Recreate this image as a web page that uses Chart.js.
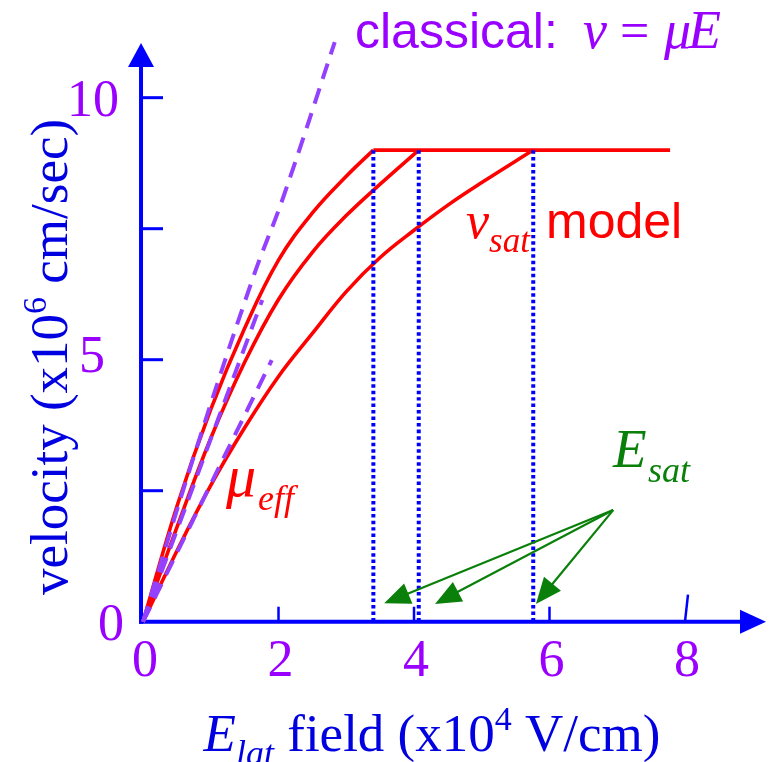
<!DOCTYPE html>
<html>
<head>
<meta charset="utf-8">
<script src="https://cdn.jsdelivr.net/npm/chart.js@4.4.1/dist/chart.umd.min.js"></script>
<style>
	html, body { margin: 0; padding: 0; background: #fff; }
	canvas { display: block; }
	#fontwarm { position: absolute; left: -9999px; top: 0; font-size: 50px; }
</style>
</head>
<body>
<div id="fontwarm">
	<span style="font-family: 'Liberation Serif'">velocity 0123 <i>Ev&mu;</i></span>
	<span style="font-family: 'Liberation Sans'">classical model</span>
</div>
<canvas id="chart" width="769" height="762"></canvas>
<script>
// values: field E (x10^4 V/cm), velocity v (x10^6 cm/s)
const curveA_E = [0, 0.5, 1, 1.5, 2, 2.5, 3, 3.4];
const curveA_V = [0, 2.2, 4.05, 5.6, 6.9, 7.8, 8.5, 9.0];
const curveB_E = [0, 0.5, 1, 1.5, 2, 2.5, 3, 3.5, 4.07];
const curveB_V = [0, 1.8, 3.5, 4.95, 6.15, 7.05, 7.75, 8.35, 9.0];
const curveC_E = [0, 0.5, 1, 1.5, 2, 2.5, 3, 3.5, 4, 4.5, 5, 5.76];
const curveC_V = [0, 1.35, 2.6, 3.7, 4.68, 5.5, 6.3, 6.95, 7.47, 7.95, 8.38, 9.0];
const satLine_E = [3.4, 7.78];
const vSat = 9.0;
const eSat = [3.4, 4.07, 5.76];

// classical v = mu*E lines (dashed)
const classical1_E = [0, 0.7, 1.62, 2.07, 2.83];
const classical1_V = [0, 2.95, 6.55, 8.1, 11.06];
const classical2_E = [0, 1.76];
const classical2_V = [0, 6.14];
const classical3_E = [0, 1.9];
const classical3_V = [0, 4.99];

const xTicks = [2, 4, 6, 8];
const xTickLabels = ["0", "2", "4", "6", "8"];
const xTickLabelValues = [0, 2, 4, 6, 8];
const yTicks = [2.5, 5, 7.5, 10];
const yTickLabels = ["0", "5", "10"];
const yTickLabelValues = [0, 5, 10];

const SERIF = '"Liberation Serif", "Times New Roman", "DejaVu Serif", serif';
const SANS = '"Liberation Sans", Arial, sans-serif';
const AXIS_BLUE = "#0000ff";
const TITLE_BLUE = "#0000e0";
const TICK_PURPLE = "#9900ff";
const DASH_PURPLE = "#9440ff";
const RED = "#ff0000";
const GREEN = "#0a800a";

function pts(xs, ys) {
	return xs.map((x, i) => ({ x: x, y: Array.isArray(ys) ? ys[i] : ys }));
}

function lineSet(data, color, width, dash, order) {
	return {
		data: data,
		showLine: true,
		borderColor: color,
		borderWidth: width,
		borderDash: dash,
		pointRadius: 0,
		fill: false,
		tension: 0.4,
		borderCapStyle: "butt",
		order: order,
	};
}

const datasets = [
	lineSet(pts(classical1_E, classical1_V), DASH_PURPLE, 4, [16, 10], 0),
	lineSet(pts(classical2_E, classical2_V), DASH_PURPLE, 4, [16, 10], 0),
	lineSet(pts(classical3_E, classical3_V), DASH_PURPLE, 4, [16, 10], 0),
];
eSat.forEach((e) => {
	datasets.push(lineSet(pts([e, e], [0, vSat]), "#0000ff", 4, [3.5, 3], 1));
});
datasets.push(lineSet(pts(curveA_E, curveA_V), RED, 3.6, [], 2));
datasets.push(lineSet(pts(curveB_E, curveB_V), RED, 3.6, [], 2));
datasets.push(lineSet(pts(curveC_E, curveC_V), RED, 3.6, [], 2));
datasets.push(lineSet(pts(satLine_E, vSat), RED, 3.6, [], 2));

// draws a run of text pieces (sub/superscripts); a piece may carry its own x
function drawRich(ctx, x, y, parts, align) {
	let total = 0;
	parts.forEach((p) => {
		ctx.font = p.f;
		total += ctx.measureText(p.t).width;
	});
	let cx = align === "center" ? x - total / 2 : x;
	parts.forEach((p) => {
		if (p.x !== undefined) cx = p.x;
		ctx.font = p.f;
		ctx.fillStyle = p.c;
		ctx.fillText(p.t, cx, y + (p.dy || 0));
		cx += ctx.measureText(p.t).width;
	});
}

function arrowHead(ctx, x0, y0, x1, y1, len, half) {
	const a = Math.atan2(y1 - y0, x1 - x0);
	ctx.beginPath();
	ctx.moveTo(x1, y1);
	ctx.lineTo(x1 - len * Math.cos(a) + half * Math.sin(a), y1 - len * Math.sin(a) - half * Math.cos(a));
	ctx.lineTo(x1 - len * Math.cos(a) - half * Math.sin(a), y1 - len * Math.sin(a) + half * Math.cos(a));
	ctx.closePath();
	ctx.fill();
}

const axesPlugin = {
	id: "axes",
	beforeDatasetsDraw(chart) {
		const ctx = chart.ctx;
		const xs = chart.scales.x;
		const ys = chart.scales.y;
		const x0 = xs.getPixelForValue(0) - 2;
		const y0 = ys.getPixelForValue(0);
		ctx.save();
		ctx.strokeStyle = AXIS_BLUE;
		ctx.fillStyle = AXIS_BLUE;
		ctx.lineWidth = 4;
		// y axis with arrow
		ctx.beginPath();
		ctx.moveTo(x0, y0 + 2);
		ctx.lineTo(x0, 62);
		ctx.stroke();
		ctx.beginPath();
		ctx.moveTo(x0, 43);
		ctx.lineTo(x0 - 13, 67);
		ctx.lineTo(x0 + 13, 67);
		ctx.closePath();
		ctx.fill();
		// x axis with arrow
		ctx.beginPath();
		ctx.moveTo(x0 - 2, y0);
		ctx.lineTo(745, y0);
		ctx.stroke();
		ctx.beginPath();
		ctx.moveTo(766, y0);
		ctx.lineTo(740, y0 - 12);
		ctx.lineTo(740, y0 + 12);
		ctx.closePath();
		ctx.fill();
		// y ticks
		ctx.lineWidth = 3;
		yTicks.forEach((v) => {
			const py = ys.getPixelForValue(v);
			ctx.beginPath();
			ctx.moveTo(x0, py);
			ctx.lineTo(x0 + 22, py);
			ctx.stroke();
		});
		// x ticks
		ctx.lineWidth = 2.5;
		xTicks.forEach((v, i) => {
			const px = xs.getPixelForValue(v);
			const last = i === xTicks.length - 1;
			ctx.beginPath();
			ctx.moveTo(px, y0);
			ctx.lineTo(px + (last ? 3 : 0), y0 - (last ? 27 : 15));
			ctx.stroke();
		});
		// tick labels
		ctx.fillStyle = TICK_PURPLE;
		ctx.font = "52px " + SERIF;
		ctx.textAlign = "center";
		ctx.textBaseline = "alphabetic";
		xTickLabels.forEach((t, i) => {
			ctx.fillText(t, xs.getPixelForValue(xTickLabelValues[i]) + 2, 676);
		});
		ctx.textAlign = "right";
		const yLabelX = [124, 105, 119];
		const yLabelDy = [18, 12, 18];
		yTickLabels.forEach((t, i) => {
			ctx.fillText(t, yLabelX[i], ys.getPixelForValue(yTickLabelValues[i]) + yLabelDy[i]);
		});
		ctx.restore();
	},
	afterDatasetsDraw(chart) {
		const ctx = chart.ctx;
		const xs = chart.scales.x;
		const ys = chart.scales.y;
		ctx.save();
		ctx.textAlign = "left";
		ctx.textBaseline = "alphabetic";

		// classical label
		drawRich(ctx, 355, 48, [
			{ t: "classical:", f: "50px " + SANS, c: TICK_PURPLE },
			{ t: "v", f: "italic 54px " + SERIF, c: TICK_PURPLE, x: 583 },
			{ t: "=", f: "52px " + SERIF, c: TICK_PURPLE, x: 620 },
			{ t: "\u03bc", f: "italic 54px " + SERIF, c: TICK_PURPLE, x: 664 },
			{ t: "E", f: "italic 54px " + SERIF, c: TICK_PURPLE, x: 688 },
		]);

		// vsat model label
		drawRich(ctx, 466, 238, [
			{ t: "v", f: "italic 52px " + SERIF, c: RED },
			{ t: "sat", f: "italic 35px " + SERIF, c: RED, dy: 14 },
		]);
		ctx.font = "50px " + SANS;
		ctx.fillStyle = RED;
		ctx.fillText("model", 546, 238);

		// mu_eff label
		drawRich(ctx, 226, 496, [
			{ t: "\u03bc", f: "italic 60px " + SERIF, c: RED },
			{ t: "eff", f: "italic 36px " + SERIF, c: RED, dy: 14, x: 258 },
		]);

		// Esat label and arrows
		drawRich(ctx, 613, 467, [
			{ t: "E", f: "italic 55px " + SERIF, c: GREEN },
			{ t: "sat", f: "italic 36px " + SERIF, c: GREEN, dy: 15, x: 648 },
		]);
		const sx = xs.getPixelForValue(6.94);
		const sy = ys.getPixelForValue(2.13);
		ctx.strokeStyle = GREEN;
		ctx.fillStyle = GREEN;
		ctx.lineWidth = 2.2;
		[[3.56, 0.35], [4.31, 0.34], [5.8, 0.34]].forEach((p) => {
			const tx = xs.getPixelForValue(p[0]);
			const ty = ys.getPixelForValue(p[1]);
			const a = Math.atan2(ty - sy, tx - sx);
			ctx.beginPath();
			ctx.moveTo(sx, sy);
			ctx.lineTo(tx - 20 * Math.cos(a), ty - 20 * Math.sin(a));
			ctx.stroke();
			arrowHead(ctx, sx, sy, tx, ty, 26, 11);
		});

		// axis titles
		drawRich(ctx, 432, 751, [
			{ t: "E", f: "italic 53px " + SERIF, c: TITLE_BLUE },
			{ t: "lat", f: "italic 36px " + SERIF, c: TITLE_BLUE, dy: 14 },
			{ t: " field (x10", f: "53px " + SERIF, c: TITLE_BLUE },
			{ t: "4", f: "34px " + SERIF, c: TITLE_BLUE, dy: -21 },
			{ t: " V/cm)", f: "53px " + SERIF, c: TITLE_BLUE },
		], "center");

		ctx.translate(67, 357);
		ctx.rotate(-Math.PI / 2);
		drawRich(ctx, 0, 0, [
			{ t: "velocity (x10", f: "53px " + SERIF, c: TITLE_BLUE },
			{ t: "6", f: "34px " + SERIF, c: TITLE_BLUE, dy: -21 },
			{ t: " cm/sec)", f: "53px " + SERIF, c: TITLE_BLUE },
		], "center");
		ctx.restore();
	},
};

const chart = new Chart(document.getElementById("chart").getContext("2d"), {
	type: "scatter",
	data: { datasets: datasets },
	options: {
		responsive: false,
		animation: false,
		events: [],
		layout: { padding: 0 },
		plugins: { legend: { display: false }, tooltip: { enabled: false } },
		scales: {
			x: { type: "linear", min: -2.111, max: 9.24, display: false },
			y: { type: "linear", min: -2.677, max: 11.864, display: false },
		},
	},
	plugins: [axesPlugin],
});

// redraw once the system fonts are surely in place
document.fonts.ready.then(() => chart.draw());
[50, 200, 500, 1000].forEach((ms) => setTimeout(() => chart.draw(), ms));
</script>
</body>
</html>
